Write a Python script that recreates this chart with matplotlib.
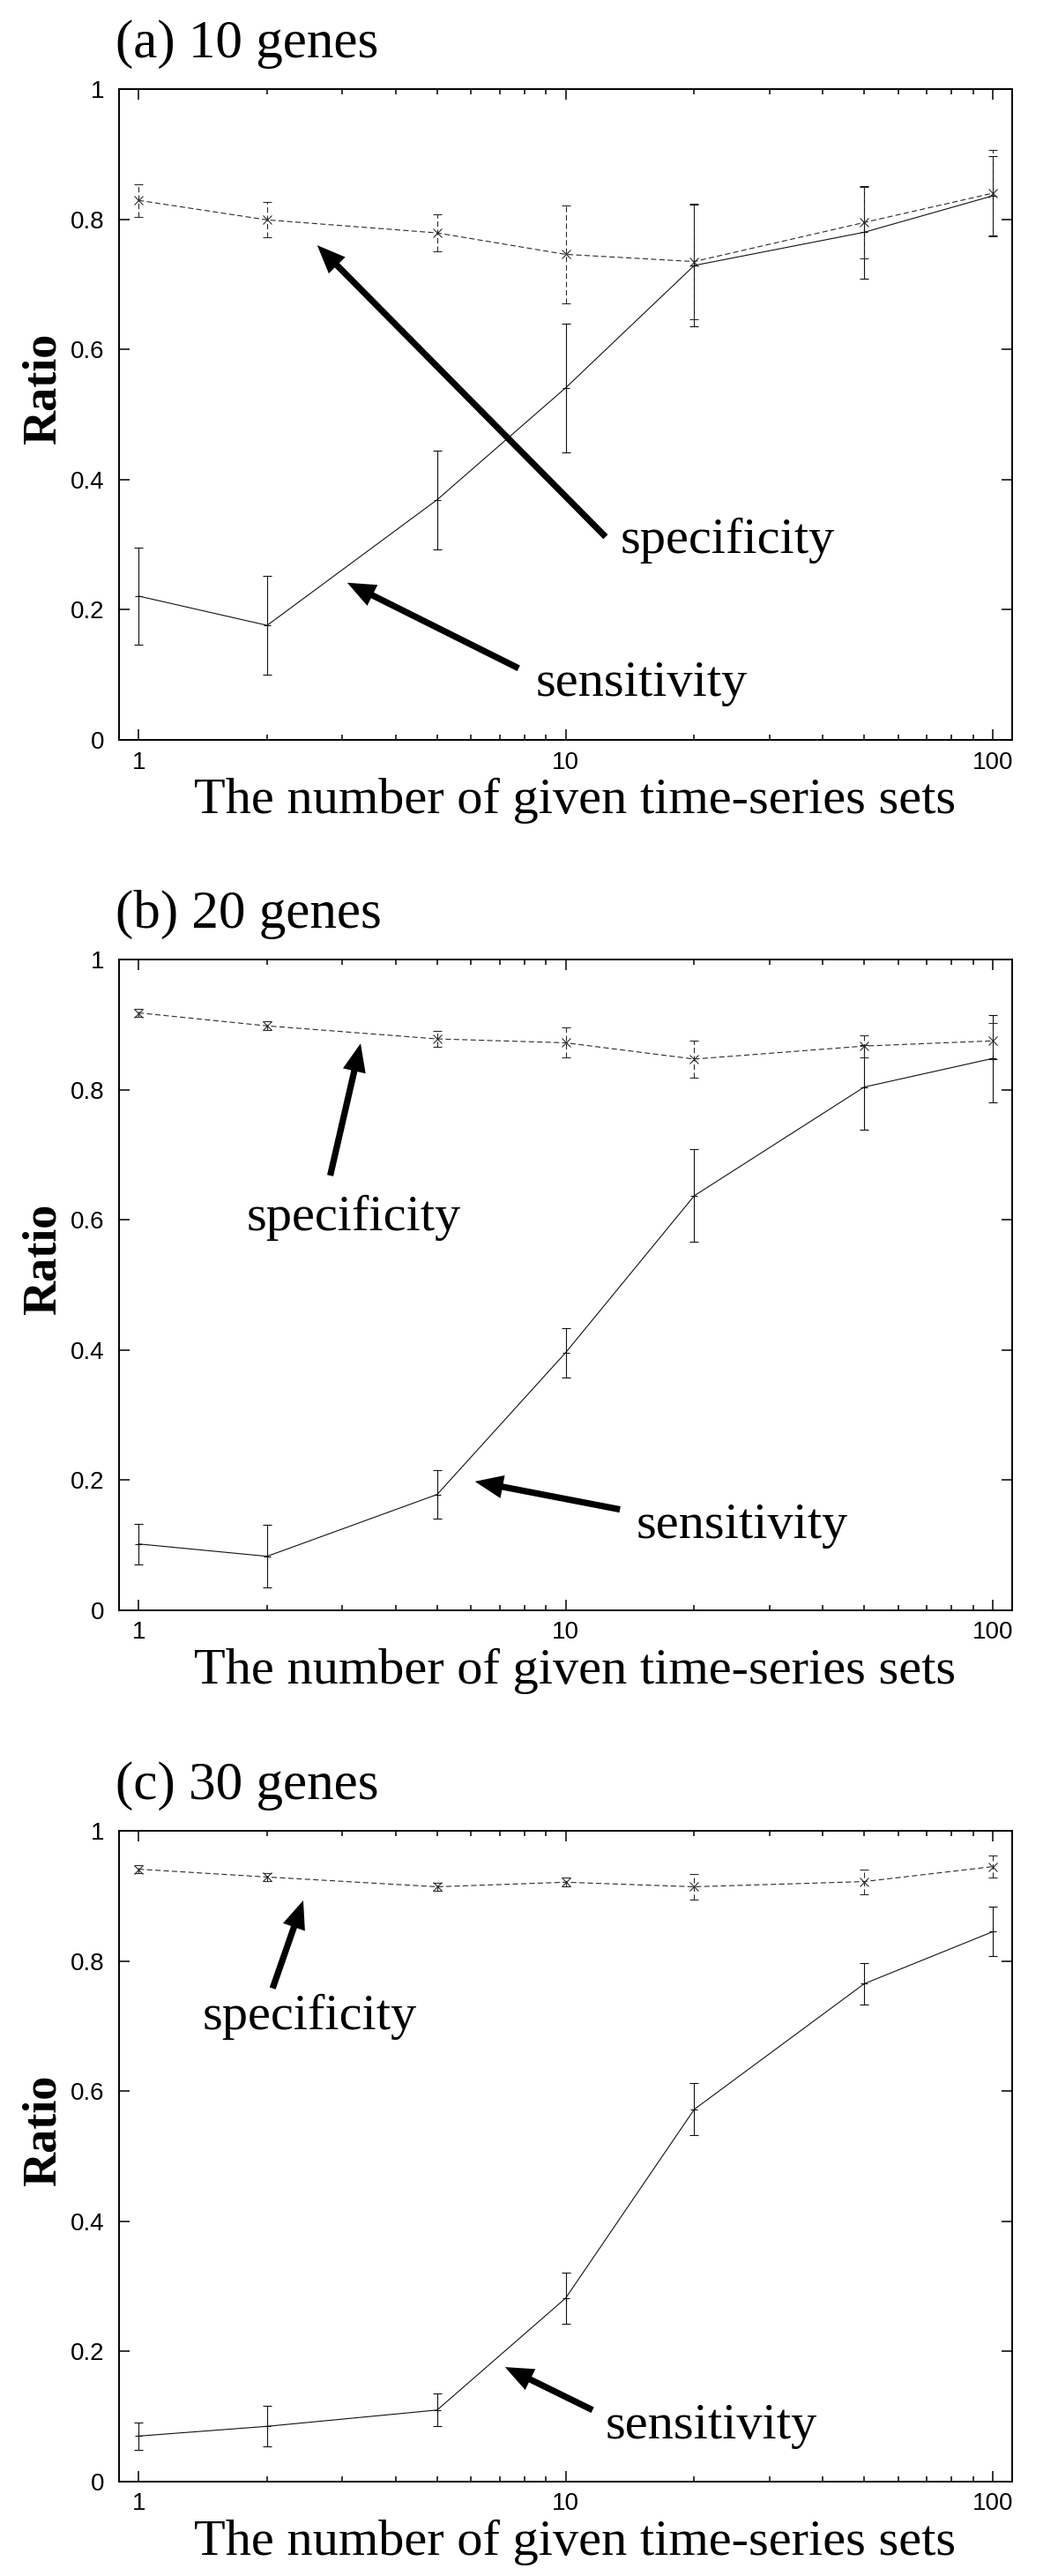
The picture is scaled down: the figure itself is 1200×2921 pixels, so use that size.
import matplotlib
matplotlib.use("Agg")
import matplotlib.pyplot as plt
from matplotlib.ticker import FixedLocator, NullFormatter

# x values: number of given time-series sets
sets = [1, 2, 5, 10, 20, 50, 100]

# (a) 10 genes
spec_10 = [0.829, 0.799, 0.779, 0.746, 0.735, 0.795, 0.840]
spec_10_err = [0.025, 0.027, 0.029, 0.075, 0.089, 0.055, 0.066]
sens_10 = [0.221, 0.176, 0.369, 0.541, 0.729, 0.780, 0.836]
sens_10_err = [0.074, 0.076, 0.076, 0.099, 0.093, 0.071, 0.061]

# (b) 20 genes
spec_20 = [0.918, 0.898, 0.878, 0.872, 0.847, 0.867, 0.875]
spec_20_err = [0.006, 0.007, 0.012, 0.023, 0.029, 0.017, 0.028]
sens_20 = [0.102, 0.083, 0.178, 0.396, 0.637, 0.804, 0.848]
sens_20_err = [0.031, 0.048, 0.037, 0.038, 0.071, 0.065, 0.067]

# (c) 30 genes
spec_30 = [0.941, 0.929, 0.914, 0.921, 0.914, 0.922, 0.945]
spec_30_err = [0.006, 0.006, 0.006, 0.007, 0.020, 0.019, 0.017]
sens_30 = [0.070, 0.085, 0.110, 0.282, 0.572, 0.765, 0.845]
sens_30_err = [0.021, 0.031, 0.025, 0.039, 0.040, 0.032, 0.038]

titles = ["(a) 10 genes", "(b) 20 genes", "(c) 30 genes"]
y_ticks = [0, 0.2, 0.4, 0.6, 0.8, 1]
y_ticklabels = ["0", "0.2", "0.4", "0.6", "0.8", "1"]
x_ticks = [1, 10, 100]
x_ticklabels = ["1", "10", "100"]

SERIF = "Liberation Serif"
SANS = "Liberation Sans"

# label placement per panel: (text xy, arrow tail, arrow head) in data coords
notes = [
    {"specificity": ((13.4, 0.287), (12.4, 0.312), (2.62, 0.760)),
     "sensitivity": ((8.49, 0.068), (7.76, 0.110), (3.08, 0.2415))},
    {"specificity": ((1.79, 0.584), (2.81, 0.668), (3.31, 0.871)),
     "sensitivity": ((14.6, 0.111), (13.4, 0.155), (6.13, 0.198))},
    {"specificity": ((1.41, 0.695), (2.06, 0.758), (2.43, 0.893)),
     "sensitivity": ((12.4, 0.066), (11.56, 0.110), (7.21, 0.176))},
]

W, H = 1200, 2921
AX_LEFT, AX_RIGHT = 135, 1148
AX_TOPS = [101, 1088, 2076]
AX_H = 738


def draw_panel(ax, spec, spec_err, sens, sens_err, note):
    ax.errorbar(sets, sens, yerr=sens_err, color="#111111", lw=0.8,
                marker="+", ms=6, mew=0.8, capsize=3.4, capthick=0.8,
                elinewidth=0.8)
    p = ax.errorbar(sets, spec, yerr=spec_err, color="#2a2a2a", lw=0.8,
                    marker="x", ms=7, mew=0.8, capsize=3.4, capthick=0.8,
                    elinewidth=0.8)
    p[0].set_dashes((5.5, 3))
    p[2][0].set_linestyle((0, (5.5, 3)))

    for label, (txt, tail, head) in note.items():
        ax.annotate("", xy=head, xytext=tail,
                    arrowprops=dict(arrowstyle="simple,head_length=1.15,head_width=0.95,tail_width=0.26",
                                    mutation_scale=20, fc="black", ec="black", lw=0,
                                    shrinkA=0, shrinkB=0))
        ax.text(txt[0], txt[1], label, family=SERIF, fontsize=42,
                ha="left", va="baseline")

    ax.set_xscale("log")
    ax.set_xlim(0.9, 111)
    ax.set_ylim(0, 1)
    ax.xaxis.set_major_locator(FixedLocator(x_ticks))
    ax.xaxis.set_minor_locator(FixedLocator([m * d for d in (1, 10) for m in range(2, 10)]))
    ax.xaxis.set_minor_formatter(NullFormatter())
    ax.set_xticklabels(x_ticklabels)
    ax.set_yticks(y_ticks)
    ax.set_yticklabels(y_ticklabels)
    ax.tick_params(which="both", direction="in", top=True, right=True, width=1.1)
    ax.tick_params(which="major", length=8.5)
    ax.tick_params(which="minor", length=4.5)
    ax.tick_params(axis="x", pad=9)
    ax.tick_params(axis="y", pad=12)
    for lab in ax.get_xticklabels() + ax.get_yticklabels():
        lab.set_family(SANS)
        lab.set_fontsize(20)
    for sp in ax.spines.values():
        sp.set_linewidth(1.4)

    ax.set_xlabel("The number of given time-series sets", family=SERIF,
                  fontsize=42, va="baseline")
    ax.xaxis.set_label_coords(0.51, -0.112)
    ax.set_ylabel("Ratio", family=SERIF, fontsize=39, fontweight="bold",
                  va="center")
    ax.yaxis.set_label_coords(-0.084, 0.54)


def main():
    fig = plt.figure(figsize=(W / 100, H / 100), dpi=100)
    panels = [
        (spec_10, spec_10_err, sens_10, sens_10_err),
        (spec_20, spec_20_err, sens_20, sens_20_err),
        (spec_30, spec_30_err, sens_30, sens_30_err),
    ]
    for i, (spec, spec_err, sens, sens_err) in enumerate(panels):
        top = AX_TOPS[i]
        ax = fig.add_axes([AX_LEFT / W, 1 - (top + AX_H) / H,
                           (AX_RIGHT - AX_LEFT) / W, AX_H / H])
        draw_panel(ax, spec, spec_err, sens, sens_err, notes[i])
        fig.text(131 / W, 1 - (top - 36) / H, titles[i], family=SERIF,
                 fontsize=44, ha="left", va="baseline")

    fig.savefig("out.png", dpi=100)
    plt.close(fig)


if __name__ == "__main__":
    main()
